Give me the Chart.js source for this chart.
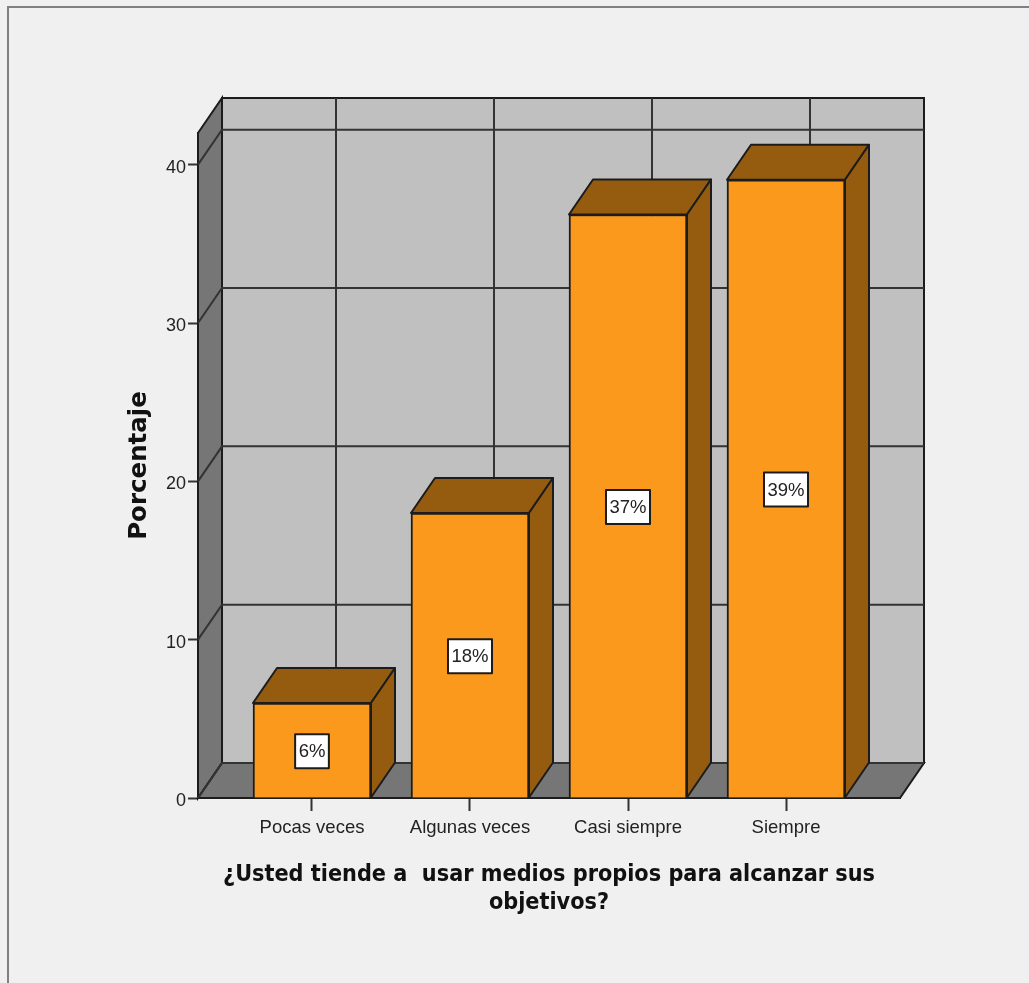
<!DOCTYPE html>
<html>
<head>
<meta charset="utf-8">
<script src="https://cdn.jsdelivr.net/npm/chart.js@4"></script>
<style>
  html, body { margin: 0; padding: 0; background: #f0f0f0; overflow: hidden; }
  canvas { display: block; filter: blur(0.45px); }
</style>
</head>
<body>
<canvas id="chart" width="1029" height="983"></canvas>
<script>
const categories = ["Pocas veces", "Algunas veces", "Casi siempre", "Siempre"];
const values = [6.0, 18.0, 36.85, 39.05];
const valueLabels = ["6%", "18%", "37%", "39%"];
const yTicks = [0, 10, 20, 30, 40];
const yTitle = "Porcentaje";
const xTitle = ["¿Usted tiende a  usar medios propios para alcanzar sus", "objetivos?"];

const LINE = "#1c1c1c";
const dx = 24, dy = -35; // 3d depth

function poly(ctx, pts, fill) {
  ctx.beginPath();
  pts.forEach((p, i) => i ? ctx.lineTo(p[0], p[1]) : ctx.moveTo(p[0], p[1]));
  ctx.closePath();
  ctx.fillStyle = fill;
  ctx.fill();
  ctx.stroke();
}

// frame, walls and grid behind the bars
const walls = {
  id: "walls",
  beforeDatasetsDraw(chart) {
    const ctx = chart.ctx;
    const {left, right, top, bottom} = chart.chartArea;
    ctx.save();
    ctx.strokeStyle = "#808080";
    ctx.lineWidth = 2;
    ctx.beginPath();
    ctx.moveTo(8, 983);
    ctx.lineTo(8, 7);
    ctx.lineTo(1029, 7);
    ctx.stroke();

    ctx.strokeStyle = LINE;
    poly(ctx, [[left + dx, top + dy], [right + dx, top + dy], [right + dx, bottom + dy], [left + dx, bottom + dy]], "#c0c0c0");
    poly(ctx, [[left, top], [left + dx, top + dy], [left + dx, bottom + dy], [left, bottom]], "#767676");
    poly(ctx, [[left, bottom], [left + dx, bottom + dy], [right + dx, bottom + dy], [right, bottom]], "#767676");

    ctx.beginPath();
    chart.scales.y.ticks.forEach(t => {
      const y = chart.scales.y.getPixelForValue(t.value);
      ctx.moveTo(left, y);
      ctx.lineTo(left + dx, y + dy);
      ctx.lineTo(right + dx, y + dy);
    });
    chart.scales.x.ticks.forEach(t => {
      const x = chart.scales.x.getPixelForValue(t.value) + dx;
      ctx.moveTo(x, top + dy);
      ctx.lineTo(x, bottom + dy);
    });
    ctx.strokeStyle = "#333";
    ctx.stroke();
    ctx.restore();
  },
  afterDatasetsDraw(chart) {
    const ctx = chart.ctx;
    ctx.save();
    ctx.strokeStyle = LINE;
    ctx.lineWidth = 2;
    ctx.lineJoin = "round";
    chart.getDatasetMeta(0).data.forEach((bar, i) => {
      const l = bar.x - bar.width / 2, r = bar.x + bar.width / 2;
      poly(ctx, [[l, bar.y], [l + dx, bar.y + dy], [r + dx, bar.y + dy], [r, bar.y]], "#955c10");
      poly(ctx, [[r, bar.y], [r + dx, bar.y + dy], [r + dx, bar.base + dy], [r, bar.base]], "#955c10");

      // value label box
      const cy = (bar.y + bar.base) / 2 + 1;
      ctx.font = "18.5px 'Liberation Sans'";
      const w = ctx.measureText(valueLabels[i]).width + 7, h = 34;
      ctx.fillStyle = "#fff";
      ctx.fillRect(bar.x - w / 2, cy - h / 2, w, h);
      ctx.strokeRect(bar.x - w / 2, cy - h / 2, w, h);
      ctx.fillStyle = "#222";
      ctx.textAlign = "center";
      ctx.textBaseline = "middle";
      ctx.fillText(valueLabels[i], bar.x, cy + 1);
    });
    ctx.restore();
  }
};

new Chart(document.getElementById("chart").getContext("2d"), {
  type: "bar",
  data: {
    datasets: [{
      data: categories.map((c, i) => ({x: i, y: values[i]})),
      backgroundColor: "#fb991d",
      borderColor: LINE,
      borderWidth: 2,
      barThickness: 118
    }]
  },
  options: {
    responsive: false,
    animation: false,
    layout: {padding: {left: 125, right: 129, top: 133, bottom: 0}},
    plugins: {legend: {display: false}, tooltip: {enabled: false}},
    scales: {
      x: {
        type: "linear",
        offset: false,
        min: -0.7215,
        max: 3.7215,
        afterBuildTicks: axis => { axis.ticks = categories.map((c, i) => ({value: i})); },
        afterFit: axis => { axis.height = 185; },
        border: {display: true, color: LINE, width: 2},
        grid: {display: true, offset: false, drawOnChartArea: false, drawTicks: true, tickLength: 13, tickColor: "#333", tickWidth: 2},
        ticks: {
          autoSkip: false, maxRotation: 0, padding: 6, color: "#222",
          font: {family: "'Liberation Sans'", size: 18.5},
          callback: v => categories[v]
        },
        title: {
          display: true, text: xTitle, color: "#111", padding: {top: 0, bottom: 66},
          font: {family: "'DejaVu Sans Condensed', 'DejaVu Sans'", size: 23.2, weight: "bold", lineHeight: 1.2}
        }
      },
      y: {
        min: 0,
        max: 42,
        afterBuildTicks: axis => { axis.ticks = yTicks.map(v => ({value: v})); },
        afterFit: axis => { axis.width = 73; },
        border: {display: true, color: LINE, width: 2},
        grid: {display: true, drawOnChartArea: false, drawTicks: true, tickLength: 10, tickColor: "#333", tickWidth: 2},
        ticks: {
          padding: 2, labelOffset: 3, color: "#222",
          font: {family: "'Liberation Sans'", size: 18}
        },
        title: {
          display: true, text: yTitle, color: "#111", padding: {top: 0, bottom: 0},
          font: {family: "'DejaVu Sans'", size: 24.5, weight: "bold"}
        }
      }
    }
  },
  plugins: [walls]
});
</script>
</body>
</html>
